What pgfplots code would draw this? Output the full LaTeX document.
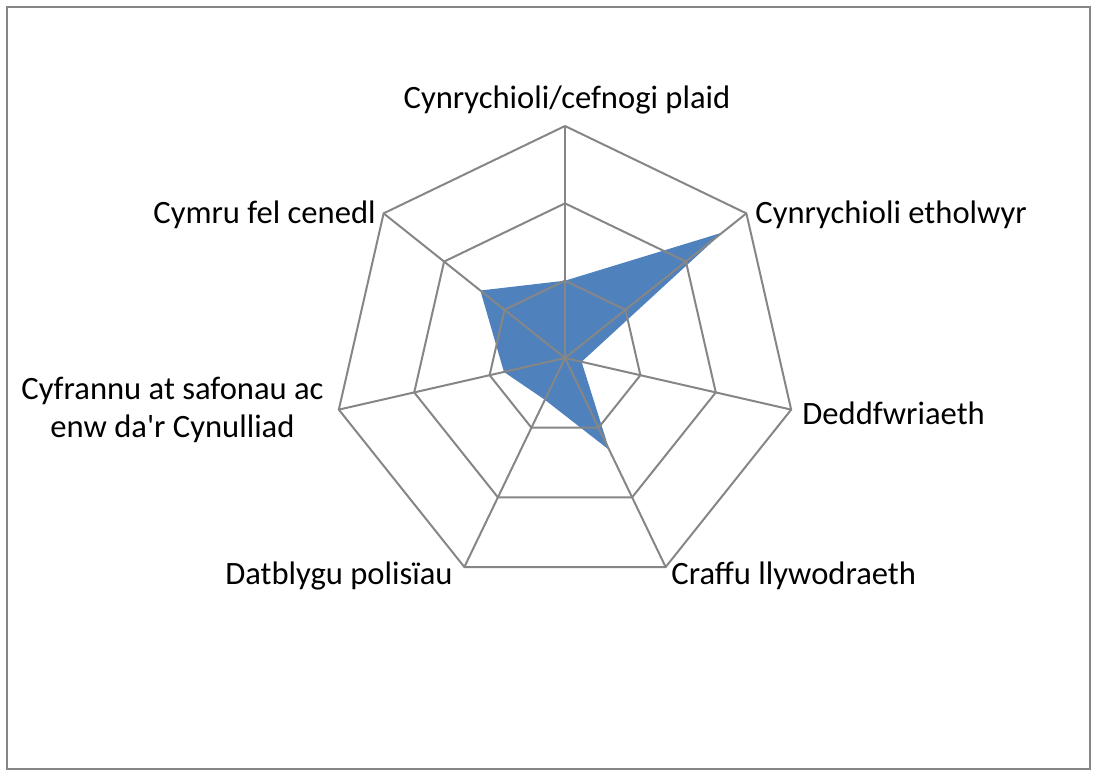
\documentclass[border=0pt]{standalone}
\usepackage{pgfplots}
\pgfplotsset{compat=1.18}
\usepgfplotslibrary{polar}
\usepackage{fontspec}
\setmainfont{Carlito}
\definecolor{gridgray}{RGB}{134,134,134}
\definecolor{serblue}{RGB}{79,129,189}
\begin{document}
\begin{tikzpicture}
\begin{scope}[x=0.5pt,y=-0.5pt]
\path[use as bounding box] (0,0) rectangle (1097,776);
\draw[gridgray, line width=1.1pt] (7,7) rectangle (1090,769);
\end{scope}
\begin{polaraxis}[at={(282.5pt,-179pt)}, anchor=center, scale only axis,
  width=232pt, height=232pt, hide axis, ymin=0, ymax=3, xmin=0, xmax=360, clip=false]
\addplot[draw=none, fill=serblue] coordinates {(90,1.0) (38.571,2.6) (-12.857,0.22) (-64.286,1.32) (-115.714,0.6) (-167.143,0.81) (-218.571,1.4)};
\addplot[gridgray, line width=1pt] coordinates {(90,3) (38.571,3) (-12.857,3) (-64.286,3) (-115.714,3) (-167.143,3) (-218.571,3) (90,3)};
\addplot[gridgray, line width=1pt] coordinates {(90,2) (38.571,2) (-12.857,2) (-64.286,2) (-115.714,2) (-167.143,2) (-218.571,2) (90,2)};
\addplot[gridgray, line width=1pt] coordinates {(90,1) (38.571,1) (-12.857,1) (-64.286,1) (-115.714,1) (-167.143,1) (-218.571,1) (90,1)};
\addplot[gridgray, line width=1pt] coordinates {(90,0) (90,3)};
\addplot[gridgray, line width=1pt] coordinates {(38.571,0) (38.571,3)};
\addplot[gridgray, line width=1pt] coordinates {(-12.857,0) (-12.857,3)};
\addplot[gridgray, line width=1pt] coordinates {(-64.286,0) (-64.286,3)};
\addplot[gridgray, line width=1pt] coordinates {(-115.714,0) (-115.714,3)};
\addplot[gridgray, line width=1pt] coordinates {(-167.143,0) (-167.143,3)};
\addplot[gridgray, line width=1pt] coordinates {(-218.571,0) (-218.571,3)};
\end{polaraxis}
\begin{scope}[x=0.5pt,y=-0.5pt, every node/.style={font=\fontsize{16.3}{19}\selectfont, inner sep=0pt}]
\node[anchor=center] at (567,100) {Cynrychioli/cefnogi plaid};
\node[anchor=west] at (755,215) {Cynrychioli etholwyr};
\node[anchor=west] at (802,413) {Deddfwriaeth};
\node[anchor=west] at (671,576) {Craffu llywodraeth};
\node[anchor=east] at (453,576) {Datblygu polisïau};
\node[anchor=east, align=center] at (324,410) {Cyfrannu at safonau ac\\enw da\textquotesingle r Cynulliad};
\node[anchor=east] at (376,215) {Cymru fel cenedl};
\end{scope}
\end{tikzpicture}
\end{document}
